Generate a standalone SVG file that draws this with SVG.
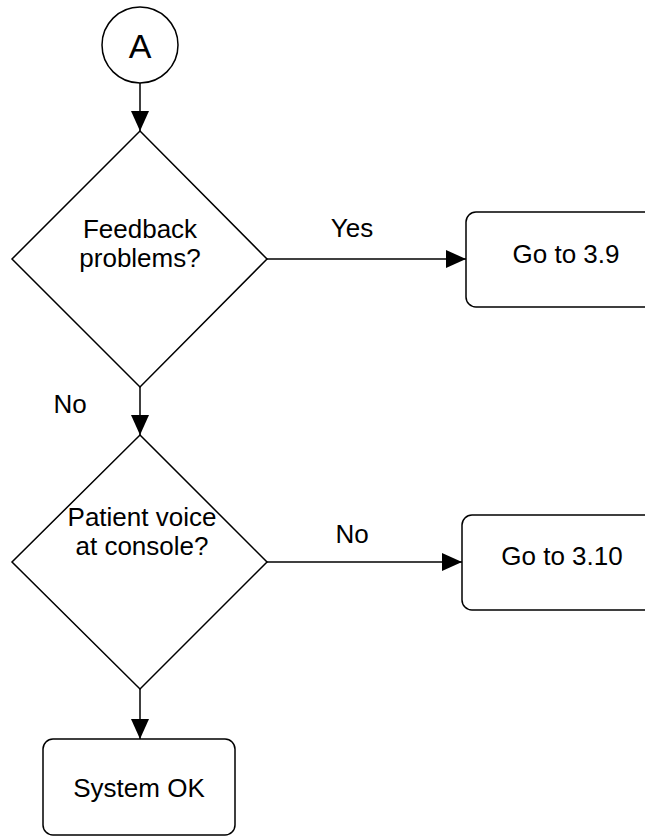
<svg xmlns="http://www.w3.org/2000/svg" width="645" height="836" viewBox="0 0 645 836">
<style>
.shape{fill:#fff;stroke:#000;stroke-width:1.5}
.line{fill:none;stroke:#000;stroke-width:1.5}
text{font-family:"Liberation Sans",Arial,sans-serif;font-size:26px;fill:#000;text-anchor:middle}
</style>
<defs>
<marker id="arr" viewBox="0 0 20 18" refX="20" refY="9" markerWidth="20" markerHeight="18" markerUnits="userSpaceOnUse" orient="auto">
<path d="M0,0 L20,9 L0,18 Z" fill="#000"/>
</marker>
</defs>
<rect width="645" height="836" fill="#fff"/>
<g id="connectors">
<line class="line" x1="140" y1="83" x2="140" y2="131" marker-end="url(#arr)"/>
<line class="line" x1="267" y1="259" x2="466" y2="259" marker-end="url(#arr)"/>
<line class="line" x1="140" y1="387" x2="140" y2="435" marker-end="url(#arr)"/>
<line class="line" x1="267" y1="562" x2="462" y2="562" marker-end="url(#arr)"/>
<line class="line" x1="140" y1="689" x2="140" y2="739" marker-end="url(#arr)"/>
<text x="352" y="237">Yes</text>
<text x="70" y="413">No</text>
<text x="352" y="543">No</text>
</g>
<g id="nodeA">
<circle class="shape" cx="140" cy="45" r="38"/>
<text x="140" y="58" style="font-size:34px">A</text>
</g>
<g id="decision1">
<polygon class="shape" points="140,131 267,259 140,387 12,259"/>
<text x="140" y="238">Feedback</text>
<text x="140" y="267">problems?</text>
</g>
<g id="goto39">
<rect class="shape" x="466" y="212" width="200" height="95" rx="10"/>
<text x="566" y="263">Go to 3.9</text>
</g>
<g id="decision2">
<polygon class="shape" points="140,435 267,562 140,689 12,562"/>
<text x="142" y="526">Patient voice</text>
<text x="142" y="555">at console?</text>
</g>
<g id="goto310">
<rect class="shape" x="462" y="515" width="200" height="95" rx="10"/>
<text x="562" y="565">Go to 3.10</text>
</g>
<g id="systemOK">
<rect class="shape" x="43" y="739" width="192" height="96" rx="10"/>
<text x="139" y="797">System OK</text>
</g>
</svg>
